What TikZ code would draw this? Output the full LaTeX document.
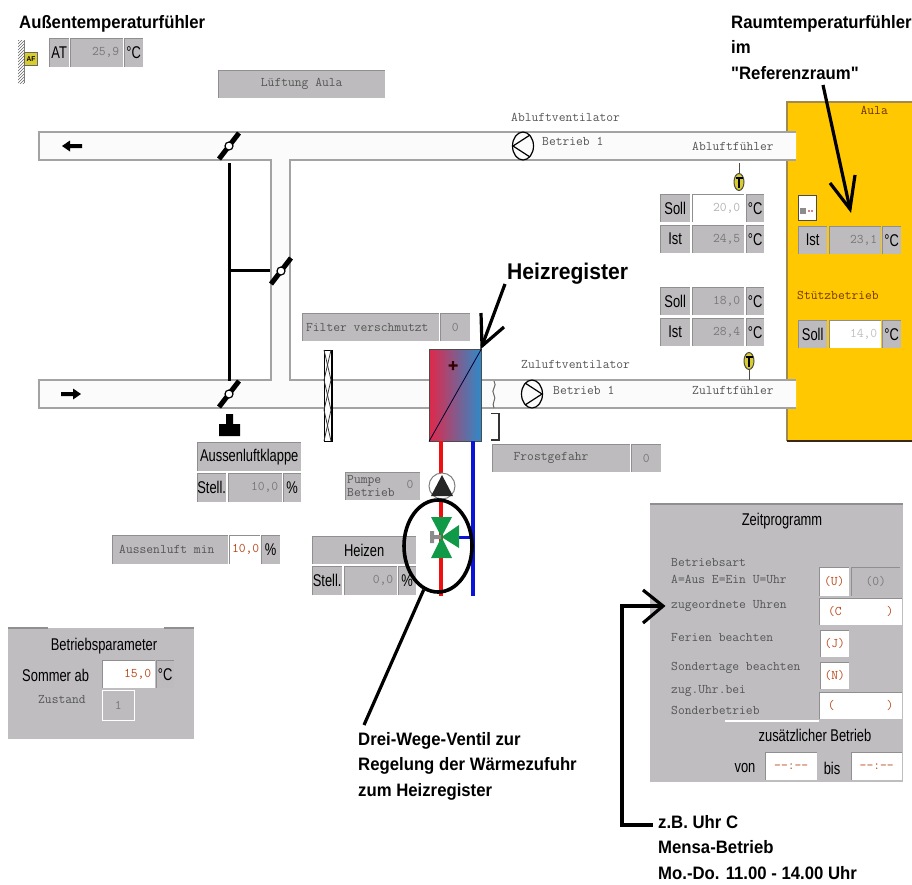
\documentclass[tikz,border=0pt]{standalone}
\usepackage{fontspec}
\usetikzlibrary{patterns, calc, positioning, shapes.geometric}
\setmainfont{Liberation Sans}
\newfontfamily\cellfont[FakeStretch=0.76]{Liberation Sans}
\newfontfamily\notefont[FakeStretch=0.93]{Liberation Sans Bold}
\definecolor{panelGrey}{HTML}{BFBDC0}
\definecolor{cellGrey}{HTML}{BDBBBD}
\definecolor{edgeGrey}{HTML}{8F8F8F}
\definecolor{ductGrey}{HTML}{A3A3A3}
\definecolor{ductWhite}{HTML}{FBFBFB}
\definecolor{aulaYellow}{HTML}{FFC800}
\definecolor{aulaEdge}{HTML}{A08A50}
\definecolor{monoGrey}{HTML}{555555}
\definecolor{valGrey}{HTML}{787878}
\definecolor{setOrange}{HTML}{B8481A}
\definecolor{hotRed}{HTML}{EE1010}
\definecolor{coldBlue}{HTML}{0A14D8}
\definecolor{valveGreen}{HTML}{109A48}
\definecolor{sensorYellow}{HTML}{D8CC30}
\definecolor{heatRed}{HTML}{E0284A}
\definecolor{heatBlue}{HTML}{2E8AC8}
\tikzset{
  cell/.style 2 args = {anchor=north west, fill=cellGrey, inner sep=0pt,
                        minimum width=#1pt, minimum height=#2pt, text=black,
                        font=\cellfont\fontsize{17}{17}\selectfont,
                        path picture={\draw[edgeGrey, line width=1.4pt]
                          (path picture bounding box.south west) --
                          (path picture bounding box.north west) --
                          (path picture bounding box.north east);}},
  mcell/.style 2 args = {cell={#1}{#2}, text=monoGrey,
                        font=\ttfamily\fontsize{13.2}{13.2}\selectfont},
  val/.style 2 args  = {cell={#1}{#2}, text width=#1pt-8pt, align=right, text=valGrey,
                        font=\ttfamily\fontsize{13.2}{13.2}\selectfont},
  inval/.style 2 args = {val={#1}{#2}, fill=white, text=black!30},
  setval/.style 2 args = {inval={#1}{#2}, text=setOrange},
  panel/.style 2 args = {anchor=north west, fill=panelGrey, inner sep=0pt,
                        minimum width=#1pt, minimum height=#2pt},
  plbl/.style        = {inner sep=0pt, font=\cellfont\fontsize{17}{17}\selectfont},
  mlbl/.style        = {anchor=west, inner sep=0pt, text=monoGrey,
                        font=\ttfamily\fontsize{13.2}{13.2}\selectfont},
  note/.style        = {anchor=north west, inner sep=0pt, align=left,
                        font=\notefont\fontsize{18}{25.4}\selectfont},
  ductline/.style    = {ductGrey, line width=1.2pt},
  rod/.style         = {black, line width=2.6pt},
  pointer/.style     = {black, line width=3.2pt},
  flap/.style        = {black, line width=5pt},
  fanbody/.style     = {draw=black, line width=1.2pt, fill=ductWhite},
  sensor/.style      = {ellipse, draw=black!70, fill=sensorYellow, line width=1pt,
                        minimum width=10pt, minimum height=17pt, inner sep=0pt},
}
\begin{document}
\begin{tikzpicture}[x=1pt, y=-1pt]
  \useasboundingbox (0,0) rectangle (912,884);
  % room
  \fill[aulaYellow] (787,102) rectangle (912,441);
  \draw[aulaEdge, line width=1.2pt] (787,441) -- (787,102) -- (912,102);
  \draw[black!70!brown, line width=1.4pt] (787,441) -- (912,441);
  \node[anchor=east, inner sep=0pt, text=black!60!orange, font=\ttfamily\fontsize{13.2}{13.2}\selectfont] (aulalbl) at (888,110) {Aula};
  % ducts
  \fill[ductWhite] (39,132) rectangle (796,160) (39,380) rectangle (796,408) (271,160) rectangle (290,380);
  \draw[ductline] (796,132) -- (39,132) -- (39,160) -- (271,160) -- (271,380) -- (39,380) -- (39,408) -- (796,408);
  \draw[ductline] (796,160) -- (290,160) -- (290,380) -- (796,380);
  % flow arrows
  \fill[black] (62,146) -- (70,140.5) -- (70,144) -- (82,144) -- (82,148) -- (70,148) -- (70,151.5) -- cycle;
  \fill[black] (81,394) -- (73,388.5) -- (73,392) -- (61,392) -- (61,396) -- (73,396) -- (73,399.5) -- cycle;
  % linkage and flaps
  \draw[rod] (229.5,163) -- (229.5,381);
  \draw[rod] (229.5,270.5) -- (270,270.5);
  \foreach \cx/\cy/\nm in {229/146/flapa, 281/271/flapb, 229/394/flapc} {
    \coordinate (\nm) at (\cx,\cy);
    \draw[flap] ($(\nm)+(-10,13)$) -- ($(\nm)+(10,-13)$);
    \draw[black, fill=white, line width=1.2pt] (\nm) circle (4);
  }
  % flap actuator
  \fill[black] (219,436) -- (219,424) -- (226,424) -- (226,414) -- (233,414) -- (233,424) -- (240,424) -- (240,436) -- cycle;
  % outside air sensor
  \fill[pattern=north east lines, pattern color=black!60] (18,40) rectangle (24,83);
  \draw[black!50, line width=0.8pt] (24,40) -- (24,83);
  \node[draw=black!60, fill=sensorYellow, inner sep=0pt, minimum width=13pt, minimum height=13pt,
        font=\notefont\fontsize{7}{7}\selectfont] (afbox) at (31,59) {AF};
  \node[cell={20}{29}] (atlbl) at (49,38) {AT};
  \node[val={53}{29}] (atval) at (70,38) {25,9};
  \node[cell={19}{29}] (atunit) at (124,38) {°C};
  \node[mcell={167}{28}] (title) at (218,70) {Lüftung Aula};
  % fans
  \node[ellipse, fanbody, minimum width=21pt, minimum height=28pt, inner sep=0pt] (fanab) at (523,146) {};
  \draw[black, line width=1.2pt] (530,135) -- (513,146) -- (530,157);
  \node[ellipse, fanbody, minimum width=21pt, minimum height=28pt, inner sep=0pt] (fanzu) at (532,394) {};
  \draw[black, line width=1.2pt] (525,383) -- (542,394) -- (525,405);
  \node[mlbl] (ablbl) at (511,117) {Abluftventilator};
  \node[mlbl] (abrun) at (542,141) {Betrieb 1};
  \node[mlbl] (abfuehl) at (692,146) {Abluftfühler};
  \node[mlbl] (zulbl) at (521,364) {Zuluftventilator};
  \node[mlbl] (zurun) at (553,390) {Betrieb 1};
  \node[mlbl] (zufuehl) at (692,390) {Zuluftfühler};
  % duct sensors
  \node[sensor] (sensab) at (739,182) {};
  \node[sensor] (senszu) at (749,361) {};
  \draw[black!70, line width=1pt] (739,163) -- (sensab.north);
  \draw[black!70, line width=1pt] (senszu.south) -- (749,380);
  \draw[black, line width=1.2pt] (735.5,178) -- (742.5,178) (739,178) -- (739,188);
  \draw[black, line width=1.2pt] (745.5,357) -- (752.5,357) (749,357) -- (749,367);
  % setpoint blocks
  \foreach \ytop/\nm/\kind/\txt/\vtxt in {194/sollab/inval/Soll/{20,0}, 225/istab/val/Ist/{24,5}, 287/sollzu/val/Soll/{18,0}, 318/istzu/val/Ist/{28,4}} {
    \node[cell={30}{28}] (\nm lbl) at (660,\ytop) {\txt};
    \node[\kind={52}{28}] (\nm val) at (692,\ytop) {\vtxt};
    \node[cell={18}{28}] (\nm unit) at (746,\ytop) {°C};
  }
  % room values
  \node[draw=black!70, fill=white, minimum width=18pt, minimum height=25pt, inner sep=0pt] (roombtn) at (807,207.5) {};
  \fill[black!45] (800,208) rectangle (806,214);
  \fill[red!70!black] (809,211) circle (0.8) (812,211) circle (0.8);
  \node[cell={29}{28}] (istlbl) at (798,226) {Ist};
  \node[val={52}{28}] (istval) at (829,226) {23,1};
  \node[cell={19}{28}] (istunit) at (882,226) {°C};
  \node[mlbl, text=black!55!orange] (stuetz) at (797,295) {Stützbetrieb};
  \node[cell={29}{28}] (solllbl) at (798,320) {Soll};
  \node[inval={52}{28}, text=black!25] (sollval) at (829,320) {14,0};
  \node[cell={19}{28}] (sollunit) at (882,320) {°C};
  % filter
  \node[mcell={137}{28}] (filterlbl) at (302,313) {Filter verschmutzt\phantom{x}};
  \node[mcell={30}{28}, text=valGrey] (filterval) at (440,313) {0};
  \draw[black, fill=white, line width=1pt] (324,350) rectangle (332,441);
  \draw[black, line width=2pt] (332,350) -- (332,441);
  \draw[black!80, line width=0.8pt] (324,350) -- (331,380) -- (324,410) -- (331,441);
  \draw[black!80, line width=0.8pt] (331,350) -- (324,380) -- (331,410) -- (324,441);
  % heater
  \node[anchor=north west, minimum width=52pt, minimum height=92pt, inner sep=0pt, draw=black!70,
        left color=heatRed, right color=heatBlue] (heater) at (429,349) {};
  \draw[black!80!blue, line width=0.8pt] (heater.south west) -- (heater.north east);
  \fill[black!80!red] (451.8,361) rectangle (454.2,370) (448.5,364.3) rectangle (457.5,366.7);
  % pipes
  \draw[hotRed, line width=4pt] (441,441) -- (441,596);
  \draw[coldBlue, line width=4pt] (472.5,441) -- (472.5,596);
  \draw[coldBlue, line width=3pt] (458,537) -- (472,537);
  % pump
  \node[circle, draw=black!50, fill=white, line width=1pt, minimum size=26pt, inner sep=0pt] (pump) at (442,486) {};
  \fill[black!85] (431,496) -- (453,496) -- (442,475) -- cycle;
  % frost sensor
  \draw[black!60, line width=1pt] (494,381) .. controls (498,386) and (490,390) .. (494,395) .. controls (497,399) and (491,403) .. (494,408);
  \draw[black!80, line width=1.2pt] (491,413.5) -- (499,413.5) -- (499,440) -- (491,440);
  \node[mcell={138}{28}] (frostlbl) at (492,444) {Frostgefahr\phantom{xxx}};
  \node[mcell={30}{28}, text=valGrey] (frostval) at (631,444) {0};
  % valve
  \fill[valveGreen] (431,517) -- (452,517) -- (441.5,537) -- cycle;
  \fill[valveGreen] (431,558) -- (452,558) -- (441.5,537) -- cycle;
  \fill[valveGreen] (441.5,537) -- (459,525) -- (459,548) -- cycle;
  \fill[black!45] (430,531) rectangle (434,543) (434,535) rectangle (441,539);
  % damper and pump fields
  \node[cell={104}{29}] (klappelbl) at (197,442) {Aussenluftklappe};
  \node[cell={29}{29}] (klappestell) at (197,473) {Stell.};
  \node[val={54}{29}] (klappeval) at (228,473) {10,0};
  \node[cell={18}{29}] (klappeunit) at (283,473) {\%};
  \node[mcell={75}{28}, text width=71pt, align=left] (pumpelbl) at (345,472) {Pumpe\\Betrieb};
  \node[inner sep=0pt, text=valGrey, font=\ttfamily\fontsize{13.2}{13.2}\selectfont] (pumpeval) at (410,484) {0};
  \node[mcell={116}{29}] (minlbl) at (112,535) {Aussenluft min\phantom{x}};
  \node[setval={31}{29}, text width=29pt] (minval) at (229,535) {10,0};
  \node[cell={19}{29}] (minunit) at (261,535) {\%};
  \node[cell={104}{28}] (heizlbl) at (312,536) {Heizen};
  \node[cell={30}{29}] (heizstell) at (312,566) {Stell.};
  \node[val={53}{29}] (heizval) at (344,566) {0,0};
  \node[cell={18}{29}] (heizunit) at (398,566) {\%};
  % valve marking
  \node[ellipse, draw=black, line width=3.6pt, minimum width=68pt, minimum height=92pt, inner sep=0pt] (ring) at (438,546) {};
  % Betriebsparameter
  \node[panel={186}{111}] (parampanel) at (8,628) {};
  \draw[edgeGrey, line width=1.2pt] (parampanel.north west) -- +(40,0) (parampanel.north east) -- +(-30,0);
  \node[plbl] (paramtitle) at (104,646) {Betriebsparameter};
  \node[plbl, anchor=west] (sommerlbl) at (22,675) {Sommer ab};
  \node[setval={53}{28}] (sommerval) at (102,660) {15,0};
  \node[cell={18}{28}] (sommerunit) at (156,660) {°C};
  \node[mlbl] (zustandlbl) at (38,699) {Zustand};
  \node[mcell={32}{30}, text=valGrey, draw=white] (zustandval) at (102,690) {1};
  % Zeitprogramm
  \node[panel={253}{278}] (zeitpanel) at (650,504) {};
  \draw[edgeGrey, line width=1.2pt] (zeitpanel.north west) -- (zeitpanel.north east);
  \node[plbl] (zeittitle) at (782,521) {Zeitprogramm};
  \node[mlbl] (artlbl) at (671,562) {Betriebsart};
  \node[mlbl] (artlblb) at (671,579) {A=Aus E=Ein U=Uhr};
  \node[mlbl] (uhrlbl) at (671,606) {zugeordnete Uhren};
  \node[mlbl] (ferienlbl) at (671,637) {Ferien beachten};
  \node[mlbl] (sonderlbl) at (671,668) {Sondertage beachten};
  \node[mlbl] (zuglbl) at (671,691) {zug.Uhr.bei};
  \node[mlbl] (betrlbl) at (671,710) {Sonderbetrieb};
  \foreach \nm/\xa/\ya/\w/\h/\txt in {uval/819/567/30/29/(U), cval/819/598/83/27/{(C\hspace{45pt})}, jval/820/630/29/27/(J), nval/820/662/29/27/(N), sval/819/692/83/27/{(\hspace{52pt})}} {
    \node[setval={\w}{\h}, align=center] (\nm) at (\xa,\ya) {\txt};
  }
  \node[mcell={49}{29}, text=valGrey] (uist) at (851,567) {(0)};
  \draw[white, line width=1.2pt] (725,721) -- (819,721);
  \node[plbl] (zusatzlbl) at (815,735) {zusätzlicher Betrieb};
  \node[plbl] (vonlbl) at (745,768) {von};
  \node[setval={52}{28}, align=center] (vonval) at (765,752) {--:--};
  \node[plbl] (bislbl) at (832,768) {bis};
  \node[setval={51}{28}, align=center] (bisval) at (851,752) {--:--};
  % annotations
  \node[note] (aussen) at (19,15) {Außentemperaturfühler};
  \node[note] (raum) at (731,15) {Raumtemperaturfühler\\im\\"Referenzraum"};
  \node[note, font=\notefont\fontsize{22.7}{22.7}\selectfont] (heizreg) at (507,263) {Heizregister};
  \node[note] (dreiweg) at (358,732) {Drei-Wege-Ventil zur\\Regelung der Wärmezufuhr\\zum Heizregister};
  \node[note] (uhrc) at (658,815) {z.B. Uhr C\\Mensa-Betrieb\\Mo.-Do. 11.00 - 14.00 Uhr};
  \coordinate (raumtip) at (850,209);
  \draw[pointer] (823,85) -- (raumtip);
  \draw[pointer] (830,183) -- (raumtip) -- (855,175);
  \coordinate (heiztip) at (482,346);
  \draw[pointer] (505,284) -- (heiztip);
  \draw[pointer] (481,313) -- (heiztip) -- (504,327);
  \draw[pointer] (ring.south west) ++(11,10) -- (364,725);
  \coordinate (uhrtip) at (663,606);
  \draw[pointer] (uhrc.west |- 0,825) ++(-5,0) -| (622,606) -- (uhrtip);
  \draw[pointer] (643,590) -- (uhrtip) -- (643,623);
\end{tikzpicture}
\end{document}
